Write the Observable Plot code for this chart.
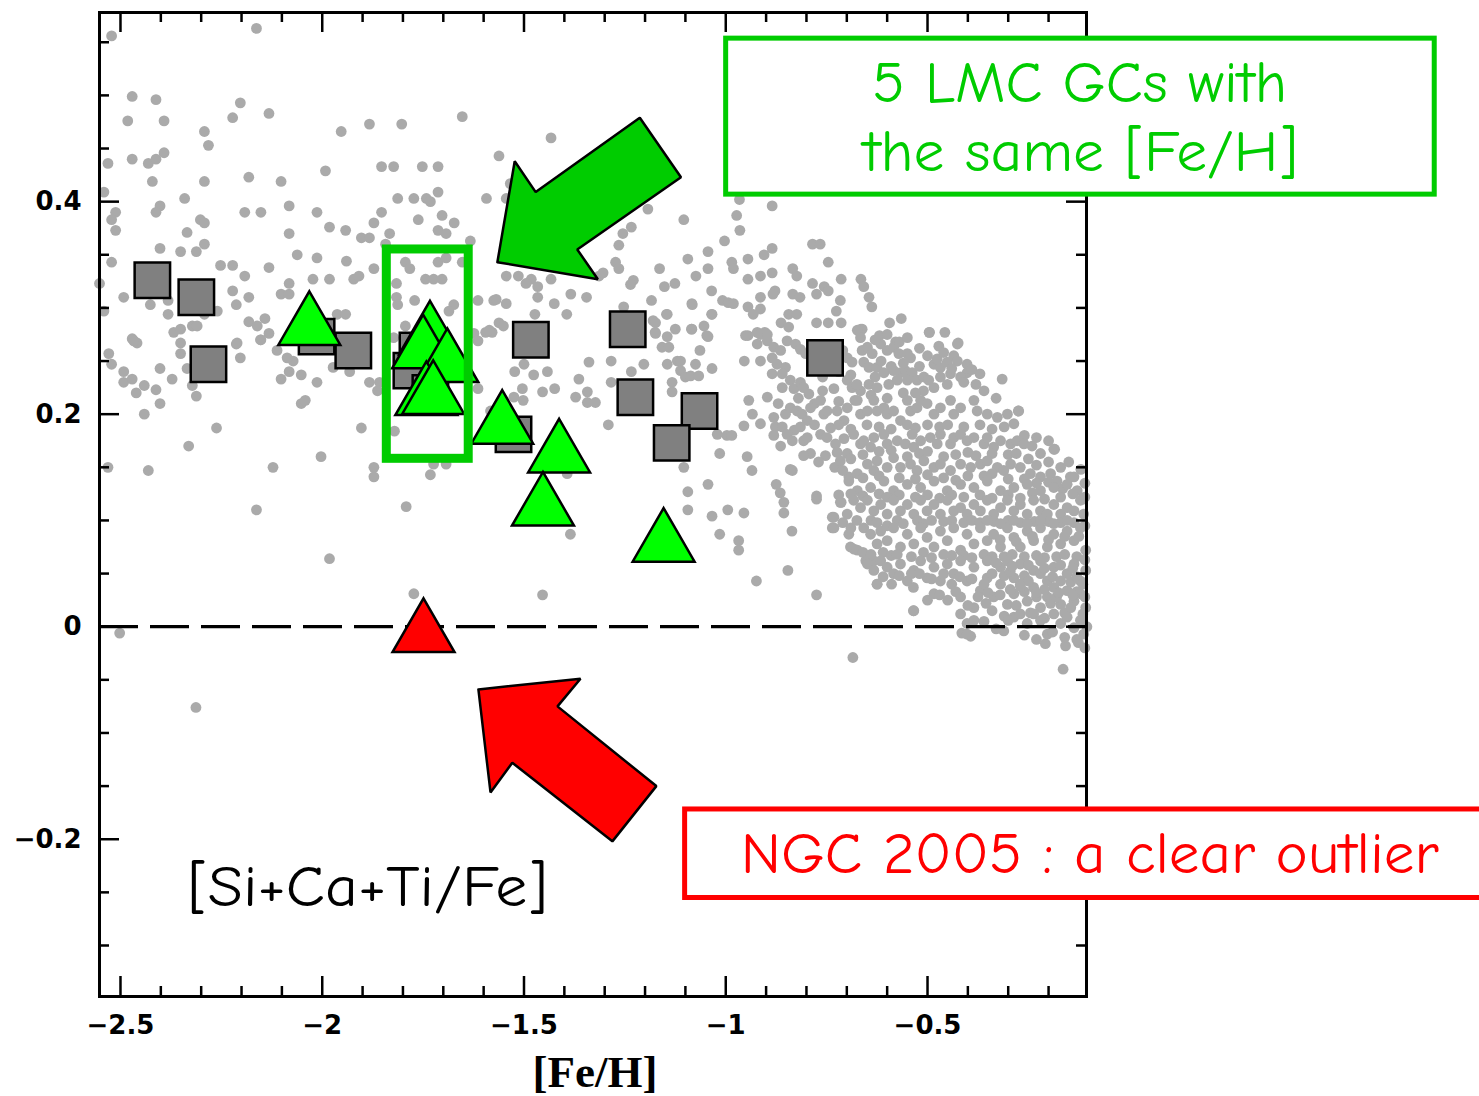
<!DOCTYPE html>
<html><head><meta charset="utf-8">
<script src="https://cdn.jsdelivr.net/npm/d3@7"></script>
<script src="https://cdn.jsdelivr.net/npm/@observablehq/plot@0.6"></script>
<style>html,body{margin:0;padding:0;background:#fff;overflow:hidden;}</style>
</head><body><div id="chart"></div>
<script>
// ---- Field stars [ [Fe/H], [Si+Ca+Ti/Fe] ] ----
const fieldMetalPoor = [
[-2.522,0.556],[-2.163,0.563],[-2.471,0.499],[-2.412,0.496],[-2.482,0.476],[-2.392,0.476],[-2.203,0.493],[-2.222,0.479],[-2.132,0.483],[-2.292,0.466],[-2.282,0.453],[-1.953,0.466],[-1.883,0.473],[-1.803,0.473],[-1.653,0.480],
[-2.531,0.436],[-2.471,0.440],[-2.431,0.436],[-2.412,0.440],[-2.392,0.446],[-2.421,0.419],[-2.292,0.419],[-2.182,0.423],[-2.102,0.419],[-1.992,0.429],[-1.853,0.433],[-1.823,0.433],[-1.752,0.433],[-1.713,0.433],[-1.562,0.443],
[-2.541,0.409],[-2.341,0.403],[-2.402,0.396],[-2.412,0.390],[-2.512,0.390],[-2.522,0.383],[-2.512,0.373],[-2.302,0.383],[-2.292,0.380],[-2.335,0.371],[-2.192,0.390],[-2.152,0.390],[-2.082,0.396],[-2.013,0.390],[-2.082,0.370],[-1.982,0.376],[-1.942,0.373],[-1.903,0.366],[-1.883,0.366],[-1.872,0.380],[-1.853,0.390],[-1.813,0.403],[-1.773,0.403],[-1.742,0.403],[-1.732,0.400],[-1.713,0.409],[-1.762,0.383],[-1.703,0.387],[-1.673,0.380],[-1.713,0.373],[-1.693,0.370],[-1.833,0.370],[-1.843,0.360],[-1.633,0.363],[-1.593,0.403],
[-2.402,0.356],[-2.351,0.353],[-2.312,0.353],[-2.292,0.360],[-2.522,0.343],[-2.252,0.340],[-2.222,0.340],[-2.192,0.330],[-2.132,0.338],[-2.062,0.350],[-2.013,0.347],[-1.940,0.344],[-1.872,0.337],[-2.023,0.327],[-1.982,0.327],[-2.082,0.323],[-1.922,0.327],[-1.909,0.330],[-2.552,0.323],[-2.222,0.316],[-2.102,0.313],[-2.082,0.313],[-2.492,0.310],[-2.182,0.310],[-2.382,0.307],[-2.213,0.303],[-2.541,0.297],[-2.426,0.303],[-2.382,0.294],[-2.292,0.294],[-2.260,0.297],[-2.182,0.287],[-2.161,0.283],[-2.142,0.290],[-2.132,0.276],[-2.152,0.270],[-2.211,0.267],[-2.368,0.277],[-2.351,0.280],[-2.322,0.283],[-2.310,0.283],[-2.471,0.271],[-2.459,0.267],[-2.351,0.267],[-1.963,0.294],[-1.942,0.294],[-1.816,0.323],[-1.816,0.310],[-1.813,0.303],[-1.771,0.307],[-1.794,0.343],[-1.783,0.337],[-1.744,0.327],[-1.724,0.327],[-1.703,0.327],[-1.713,0.343],[-1.693,0.347],[-1.653,0.343],[-1.674,0.303],[-1.686,0.297],[-1.614,0.307],[-1.575,0.307],[-1.794,0.283],[-1.624,0.276],[-1.614,0.269],[-1.595,0.277],[-1.579,0.277],[-1.562,0.286],[-1.823,0.272],
[-2.467,0.269],[-2.529,0.257],[-2.522,0.247],[-2.492,0.240],[-2.492,0.230],[-2.471,0.233],[-2.461,0.220],[-2.441,0.227],[-2.412,0.223],[-2.402,0.243],[-2.402,0.210],[-2.441,0.200],[-2.372,0.233],[-2.351,0.257],[-2.335,0.243],[-2.322,0.227],[-2.312,0.217],[-2.262,0.187],[-2.331,0.170],[-2.531,0.150],[-2.431,0.147],[-2.213,0.266],[-2.203,0.253],[-2.153,0.270],[-2.112,0.260],[-2.072,0.250],[-2.082,0.240],[-2.102,0.233],[-2.052,0.237],[-2.013,0.230],[-2.052,0.210],[-2.042,0.213],[-1.973,0.244],[-1.932,0.240],[-1.883,0.230],[-1.858,0.230],[-1.903,0.187],[-2.003,0.160],[-2.122,0.150],[-1.872,0.150],[-1.872,0.141],[-2.163,0.110],[-1.792,0.113],[-1.982,0.064],[-1.821,0.184],[-1.732,0.143],[-1.724,0.153],[-1.693,0.153],[-1.773,0.031],[-2.502,-0.006],[-1.614,0.224],[-1.583,0.203],[-2.313,-0.076],[-1.863,0.222],[-1.608,0.178],[-2.087,0.253]
];
const fieldIntermediate = [
[-1.433,0.460],[-1.544,0.403],[-1.534,0.417],[-1.193,0.393],[-1.104,0.383],[-0.973,0.387],[-0.965,0.373],[-0.885,0.396],[-0.966,0.402],[-1.234,0.376],[-1.255,0.370],[-1.265,0.359],[-1.003,0.363],[-1.044,0.353],[-1.094,0.346],[-0.885,0.356],[-0.905,0.350],[-0.945,0.346],[-0.985,0.343],[-0.785,0.360],[-0.766,0.360],[-0.746,0.343],[-1.273,0.343],[-1.265,0.337],[-1.164,0.337],[-1.044,0.337],[-1.074,0.330],[-0.981,0.337],[-0.945,0.327],[-0.914,0.330],[-0.885,0.333],[-0.834,0.337],[-0.824,0.330],[-0.714,0.327],[-0.665,0.327],[-0.658,0.320],[-0.785,0.323],[-0.756,0.320],[-0.746,0.316],[-0.775,0.313],[-0.834,0.313],[-0.816,0.310],[-0.878,0.316],[-0.883,0.313],[-0.914,0.310],[-0.945,0.301],[-0.914,0.299],[-0.932,0.294],[-1.008,0.307],[-0.994,0.305],[-0.981,0.304],[-1.035,0.316],[-1.084,0.304],[-1.152,0.320],[-1.126,0.323],[-1.184,0.307],[-1.229,0.326],[-1.236,0.322],[-1.035,0.294],[-1.147,0.294],[-1.180,0.288],[-1.175,0.277],[-1.125,0.280],[-1.084,0.280],[-1.054,0.283],[-1.047,0.274],[-0.945,0.274],[-0.922,0.277],[-0.903,0.277],[-0.863,0.286],[-0.844,0.294],[-0.824,0.294],[-0.775,0.286],[-0.746,0.286],[-0.714,0.286],[-0.726,0.297],[-0.665,0.280],[-0.638,0.301],[-0.645,0.310],[-0.594,0.286],[-0.565,0.290],[-0.619,0.274],[-0.579,0.268],[-0.496,0.277],[-0.457,0.277],[-0.424,0.267],[-1.314,0.330],[-1.482,0.327],[-1.466,0.320],[-1.495,0.323],[-1.433,0.327],[-1.384,0.313],[-1.345,0.310],[-1.514,0.330],[-1.544,0.330],[-1.466,0.310],[-1.425,0.304],[-1.569,0.308],[-1.544,0.304],[-1.473,0.294],[-1.394,0.294],[-1.304,0.333],[-1.586,0.279],[-1.551,0.283],
[-1.500,0.247],[-1.523,0.240],[-1.476,0.237],[-1.442,0.240],[-1.504,0.224],[-1.454,0.221],[-1.424,0.224],[-1.525,0.216],[-1.502,0.213],[-1.364,0.233],[-1.372,0.216],[-1.343,0.221],[-1.339,0.249],[-1.343,0.211],[-1.323,0.211],[-1.284,0.250],[-1.284,0.230],[-1.234,0.240],[-1.203,0.247],[-1.291,0.190],[-1.253,0.301],[-1.174,0.286],[-1.174,0.276],[-1.145,0.294],[-1.145,0.273],[-1.158,0.263],[-1.141,0.263],[-1.083,0.303],[-1.085,0.280],[-1.034,0.294],[-1.044,0.273],[-1.064,0.260],[-1.145,0.247],[-1.120,0.250],[-1.112,0.250],[-1.075,0.247],[-1.112,0.241],[-1.100,0.235],[-1.087,0.236],[-1.067,0.236],[-1.034,0.243],[-1.133,0.230],[-1.133,0.221],[-1.021,0.181],[-0.997,0.180],[-0.985,0.180],[-1.015,0.163],[-1.104,0.150],[-1.044,0.134],[-1.094,0.127],[-1.094,0.110],[-1.034,0.104],[-0.995,0.110],[-1.015,0.087],[-0.968,0.081],[-0.968,0.072],[-1.385,0.087],[-1.393,0.144],
[-1.454,0.030],[-0.924,0.043],[-0.846,0.053],[-0.775,0.030],[-0.836,0.090],[-0.856,0.107],[-0.856,0.117],[-0.865,0.126],[-0.875,0.134],[-0.835,0.147],[-0.775,0.123],[-0.775,0.120],[-0.714,0.117],[-0.736,0.103],[-0.736,0.093],[-0.695,0.087],[-0.682,0.073],[-0.653,0.062],[-0.625,0.040],[-0.589,0.040],[-0.535,0.037],[-0.535,0.015],[-0.415,-0.006],[-0.393,-0.009],
[-0.685,-0.029],[-0.164,-0.040],[-0.208,-0.016],[-0.158,-0.018],[-0.126,-0.015]
];
const fieldMetalRich = [
[-0.844,0.282],[-0.662,0.280],[-0.951,0.274],[-0.914,0.275],[-0.897,0.275],[-0.922,0.266],[-0.897,0.269],[-0.881,0.263],[-0.864,0.260],[-0.848,0.269],[-0.827,0.266],[-0.815,0.261],[-0.802,0.257],[-0.954,0.250],[-0.914,0.250],[-0.885,0.253],[-0.873,0.247],[-0.852,0.244],[-0.860,0.238],[-0.885,0.238],[-0.897,0.216],[-0.840,0.232],[-0.831,0.224],[-0.815,0.230],[-0.807,0.225],[-0.794,0.219],[-0.732,0.224],[-0.699,0.253],[-0.687,0.249],[-0.674,0.279],[-0.666,0.272],[-0.662,0.260],[-0.649,0.263],[-0.637,0.257],[-0.616,0.266],[-0.600,0.260],[-0.584,0.263],[-0.571,0.257],[-0.550,0.257],[-0.542,0.253],[-0.658,0.249],[-0.645,0.244],[-0.625,0.244],[-0.608,0.239],[-0.584,0.241],[-0.567,0.239],[-0.555,0.241],[-0.538,0.239],[-0.699,0.232],[-0.687,0.225],[-0.666,0.222],[-0.645,0.228],[-0.625,0.225],[-0.596,0.228],[-0.575,0.232],[-0.550,0.232],[-0.526,0.232],[-0.509,0.235],[-0.497,0.232],[-0.484,0.247],[-0.468,0.244],[-0.476,0.252],[-0.451,0.249],[-0.435,0.255],[-0.426,0.250],[-0.402,0.247],[-0.402,0.239],[-0.418,0.235],[-0.443,0.238],[-0.468,0.235],[-0.451,0.228],[-0.484,0.225],[-0.495,0.277],[-0.472,0.264],[-0.426,0.266],[-0.315,0.233],[-0.275,0.203],[-0.185,0.167],[-0.716,0.307],
[-0.78,0.245],[-0.76,0.235],[-0.74,0.250],[-0.72,0.240],[-0.71,0.260],[-0.69,0.237],[-0.675,0.228],[-0.63,0.235],[-0.615,0.250],[-0.59,0.245],[-0.56,0.248],[-0.52,0.245],[-0.51,0.222],[-0.53,0.220],[-0.56,0.220],[-0.60,0.215],[-0.64,0.218],[-0.68,0.213],[-0.72,0.212],[-0.76,0.222],[-0.78,0.210],[-0.82,0.215],[-0.86,0.225],[-0.87,0.210],
[-0.63,0.270],[-0.60,0.275],[-0.57,0.268],[-0.55,0.272],[-0.52,0.262],[-0.50,0.255],[-0.46,0.258],[-0.44,0.243],[-0.41,0.230],[-0.38,0.228],[-0.36,0.222],[-0.33,0.215],[-0.39,0.242],[-0.37,0.238],
[-0.943,0.213],[-0.934,0.200],[-0.914,0.191],[-0.881,0.197],[-0.877,0.188],[-0.852,0.200],[-0.840,0.206],[-0.823,0.203],[-0.811,0.200],[-0.798,0.194],[-0.815,0.188],[-0.790,0.206],[-0.765,0.213],[-0.757,0.200],[-0.749,0.203],[-0.724,0.203],[-0.707,0.194],[-0.699,0.206],[-0.674,0.213],[-0.666,0.200],[-0.649,0.203],[-0.633,0.213],[-0.625,0.203],[-0.608,0.206],[-0.600,0.200],[-0.584,0.203],[-0.567,0.194],[-0.550,0.213],[-0.542,0.203],[-0.526,0.206],[-0.517,0.213],[-0.501,0.210],[-0.484,0.200],[-0.468,0.206],[-0.443,0.213],[-0.435,0.200],[-0.418,0.206],[-0.385,0.213],[-0.377,0.203],[-0.352,0.200],[-0.327,0.197],[-0.302,0.200],[-0.286,0.191],[-0.274,0.203],
[-0.86,0.188],[-0.83,0.185],[-0.78,0.190],[-0.74,0.187],[-0.72,0.190],[-0.69,0.186],[-0.65,0.190],[-0.62,0.188],[-0.59,0.186],[-0.55,0.190],[-0.53,0.187],[-0.50,0.190],[-0.47,0.188],[-0.45,0.190],[-0.41,0.188],[-0.37,0.190],[-0.34,0.186],[-0.31,0.188],[-0.26,0.180],[-0.23,0.178],[-0.20,0.175],
[-0.881,0.180],[-0.864,0.170],[-0.848,0.181],[-0.835,0.175],[-0.807,0.175],[-0.798,0.178],[-0.765,0.181],[-0.749,0.178],[-0.753,0.161],[-0.728,0.172],[-0.707,0.177],[-0.699,0.163],[-0.683,0.181],[-0.666,0.172],[-0.658,0.175],[-0.641,0.169],[-0.633,0.178],[-0.608,0.181],[-0.600,0.172],[-0.575,0.175],[-0.555,0.172],[-0.538,0.181],[-0.534,0.169],[-0.517,0.175],[-0.493,0.178],[-0.476,0.172],[-0.468,0.181],[-0.443,0.172],[-0.435,0.178],[-0.418,0.181],[-0.402,0.175],[-0.385,0.178],[-0.360,0.172],[-0.352,0.178],[-0.336,0.169],[-0.319,0.175],[-0.294,0.172],[-0.278,0.175],[-0.261,0.172],[-0.241,0.170],[-0.220,0.163],[-0.187,0.167],
[-0.79,0.163],[-0.77,0.155],[-0.73,0.150],[-0.69,0.158],[-0.66,0.162],[-0.62,0.165],[-0.59,0.166],[-0.55,0.160],[-0.52,0.163],[-0.50,0.165],[-0.46,0.160],[-0.43,0.162],[-0.40,0.164],[-0.38,0.161],[-0.34,0.163],[-0.30,0.162],[-0.28,0.163],[-0.25,0.158],[-0.23,0.152],[-0.20,0.155],[-0.17,0.150],[-0.15,0.155],[-0.12,0.148],[-0.11,0.135],
[-0.840,0.148],[-0.807,0.161],[-0.724,0.164],[-0.716,0.156],[-0.695,0.141],[-0.674,0.144],[-0.649,0.153],[-0.633,0.147],[-0.625,0.156],[-0.600,0.150],[-0.584,0.159],[-0.567,0.150],[-0.542,0.153],[-0.526,0.147],[-0.509,0.156],[-0.484,0.150],[-0.468,0.153],[-0.443,0.147],[-0.418,0.153],[-0.393,0.150],[-0.369,0.153],[-0.352,0.156],[-0.327,0.150],[-0.311,0.147],[-0.294,0.153],[-0.270,0.150],[-0.245,0.144],[-0.220,0.141],[-0.195,0.144],[-0.179,0.137],[-0.146,0.141],[-0.137,0.141],
[-0.71,0.147],[-0.66,0.140],[-0.62,0.142],[-0.57,0.140],[-0.53,0.139],[-0.50,0.143],[-0.46,0.140],[-0.43,0.138],[-0.40,0.142],[-0.36,0.142],[-0.34,0.144],[-0.30,0.139],[-0.26,0.139],[-0.23,0.135],[-0.20,0.136],[-0.165,0.130],[-0.11,0.122],
[-0.695,0.137],[-0.674,0.128],[-0.641,0.131],[-0.608,0.137],[-0.584,0.128],[-0.550,0.134],[-0.517,0.131],[-0.484,0.137],[-0.451,0.128],[-0.418,0.134],[-0.385,0.131],[-0.352,0.137],[-0.319,0.128],[-0.286,0.131],[-0.253,0.134],[-0.220,0.128],[-0.187,0.131],[-0.154,0.134],[-0.129,0.128],
[-0.72,0.124],[-0.69,0.125],[-0.66,0.123],[-0.62,0.125],[-0.60,0.122],[-0.57,0.124],[-0.53,0.122],[-0.50,0.124],[-0.47,0.121],[-0.44,0.124],[-0.41,0.122],[-0.37,0.124],[-0.34,0.121],[-0.30,0.124],[-0.27,0.121],[-0.24,0.126],[-0.21,0.120],[-0.17,0.122],[-0.14,0.125],[-0.115,0.120],
[-0.732,0.103],[-0.732,0.093],[-0.716,0.117],[-0.699,0.106],[-0.683,0.119],[-0.666,0.112],[-0.649,0.119],[-0.633,0.109],[-0.616,0.115],[-0.600,0.106],[-0.584,0.119],[-0.567,0.109],[-0.550,0.115],[-0.534,0.106],[-0.517,0.119],[-0.501,0.109],[-0.484,0.115],[-0.468,0.106],[-0.451,0.119],[-0.435,0.109],[-0.418,0.112],[-0.402,0.106],[-0.385,0.115],[-0.369,0.109],[-0.352,0.119],[-0.336,0.106],[-0.319,0.112],[-0.302,0.119],[-0.286,0.109],[-0.270,0.115],[-0.253,0.106],[-0.237,0.119],[-0.220,0.109],[-0.203,0.106],[-0.187,0.115],[-0.170,0.106],[-0.154,0.112],[-0.137,0.109],[-0.121,0.119],[-0.113,0.106],
[-0.71,0.098],[-0.69,0.093],[-0.675,0.100],[-0.64,0.100],[-0.625,0.098],[-0.60,0.095],[-0.575,0.100],[-0.56,0.097],[-0.525,0.100],[-0.51,0.097],[-0.49,0.100],[-0.46,0.099],[-0.44,0.100],[-0.41,0.098],[-0.39,0.100],[-0.37,0.098],[-0.335,0.099],[-0.30,0.100],[-0.27,0.098],[-0.235,0.099],[-0.20,0.099],[-0.17,0.098],[-0.137,0.098],[-0.11,0.095],
[-0.691,0.075],[-0.674,0.072],[-0.658,0.093],[-0.641,0.087],[-0.625,0.078],[-0.633,0.062],[-0.616,0.090],[-0.600,0.081],[-0.584,0.093],[-0.567,0.075],[-0.550,0.087],[-0.534,0.078],[-0.517,0.093],[-0.501,0.084],[-0.484,0.075],[-0.468,0.090],[-0.451,0.081],[-0.435,0.093],[-0.418,0.072],[-0.402,0.087],[-0.385,0.078],[-0.369,0.093],[-0.352,0.081],[-0.336,0.087],[-0.319,0.075],[-0.302,0.093],[-0.286,0.084],[-0.270,0.075],[-0.253,0.090],[-0.237,0.081],[-0.220,0.093],[-0.203,0.075],[-0.187,0.087],[-0.170,0.078],[-0.154,0.090],[-0.137,0.081],[-0.121,0.093],[-0.108,0.072],[-0.352,0.100],[-0.319,0.097],[-0.286,0.100],[-0.253,0.097],[-0.220,0.100],[-0.187,0.097],[-0.154,0.100],
[-0.66,0.070],[-0.64,0.068],[-0.61,0.070],[-0.59,0.067],[-0.575,0.068],[-0.54,0.066],[-0.51,0.070],[-0.49,0.065],[-0.46,0.068],[-0.44,0.067],[-0.41,0.067],[-0.39,0.065],[-0.36,0.068],[-0.34,0.066],[-0.31,0.066],[-0.29,0.068],[-0.26,0.066],[-0.23,0.067],[-0.21,0.065],[-0.18,0.066],[-0.16,0.068],[-0.13,0.066],[-0.11,0.063],
[-0.649,0.059],[-0.633,0.053],[-0.616,0.062],[-0.600,0.056],[-0.625,0.040],[-0.584,0.050],[-0.567,0.059],[-0.550,0.043],[-0.534,0.053],[-0.517,0.062],[-0.501,0.046],[-0.484,0.056],[-0.484,0.031],[-0.468,0.043],[-0.451,0.059],[-0.435,0.050],[-0.418,0.062],[-0.418,0.028],[-0.402,0.043],[-0.385,0.056],[-0.385,0.018],[-0.369,0.034],[-0.352,0.062],[-0.352,0.046],[-0.336,0.028],[-0.319,0.056],[-0.319,0.040],[-0.302,0.062],[-0.302,0.021],[-0.286,0.046],[-0.286,0.031],[-0.270,0.059],[-0.270,0.040],[-0.253,0.024],[-0.237,0.053],[-0.237,0.037],[-0.220,0.062],[-0.220,0.018],[-0.203,0.043],[-0.203,0.028],[-0.187,0.056],[-0.187,0.037],[-0.170,0.021],[-0.154,0.050],[-0.154,0.034],[-0.137,0.059],[-0.137,0.024],[-0.121,0.043],[-0.121,0.031],[-0.108,0.053],[-0.108,0.018],
[-0.61,0.047],[-0.57,0.048],[-0.54,0.050],[-0.52,0.050],[-0.49,0.045],[-0.46,0.050],[-0.44,0.040],[-0.42,0.047],[-0.39,0.045],[-0.36,0.040],[-0.34,0.050],[-0.31,0.048],[-0.295,0.052],[-0.26,0.048],[-0.25,0.043],[-0.22,0.050],[-0.21,0.035],[-0.19,0.047],[-0.17,0.043],[-0.145,0.042],[-0.13,0.047],[-0.115,0.040],
[-0.50,0.025],[-0.47,0.030],[-0.45,0.025],[-0.43,0.033],[-0.40,0.020],[-0.375,0.028],[-0.355,0.022],[-0.34,0.015],[-0.32,0.030],[-0.31,0.010],[-0.295,0.035],[-0.28,0.020],[-0.26,0.033],[-0.245,0.013],[-0.23,0.028],[-0.21,0.008],[-0.195,0.022],[-0.18,0.028],[-0.16,0.013],[-0.145,0.018],[-0.13,0.033],[-0.115,0.012],[-0.11,0.028],
[-0.33,0.060],[-0.29,0.057],[-0.25,0.058],[-0.21,0.055],[-0.17,0.058],[-0.14,0.055],[-0.32,0.082],[-0.28,0.080],[-0.24,0.085],[-0.20,0.082],[-0.16,0.085],[-0.125,0.085],[-0.35,0.032],[-0.27,0.038],[-0.23,0.032],[-0.175,0.032],[-0.14,0.030],
[-0.534,0.015],[-0.418,0.012],[-0.402,0.003],[-0.385,0.006],[-0.402,-0.007],[-0.311,-0.004],[-0.286,0.009],[-0.270,0.012],[-0.253,0.003],[-0.237,0.012],[-0.220,0.006],[-0.203,-0.007],[-0.187,0.012],[-0.170,0.003],[-0.154,0.009],[-0.137,-0.001],[-0.121,0.006],[-0.113,-0.007],
[-0.36,0.005],[-0.33,-0.002],[-0.30,0.006],[-0.26,-0.008],[-0.23,-0.012],[-0.19,-0.005],[-0.16,-0.010],[-0.13,-0.012],[-0.11,-0.020],[-0.105,0.000],
[-0.955,0.189],[-0.947,0.160],[-0.935,0.147],[-0.955,0.107]
];

// ---- Globular clusters ----
const galacticGCs = [
[-2.421,0.326],[-2.312,0.310],[-2.282,0.247],[-2.014,0.273],[-1.923,0.260],[-1.764,0.260],[-1.779,0.241],[-1.732,0.220],
[-1.526,0.181],[-1.483,0.270],[-1.243,0.280],[-1.224,0.216],[-1.065,0.203],[-1.134,0.173],[-0.754,0.253]
];
const lmcGCs = [
[-2.032,0.282],[-1.733,0.273],[-1.750,0.260],[-1.690,0.247],[-1.742,0.216],[-1.725,0.217],
[-1.554,0.189],[-1.413,0.162],[-1.453,0.112],[-1.154,0.078]
];
const ngc2005 = [[-1.749,-0.007]];

// ---- Annotation shapes (data units) ----
const sameFeBox = [{x1:-1.840, x2:-1.637, y1:0.158, y2:0.355}];
const greenArrow = [[-1.566,0.343],[-1.523,0.438],[-1.471,0.409],[-1.213,0.479],[-1.111,0.423],[-1.368,0.355],[-1.317,0.327],[-1.566,0.343]];
const redArrow = [[-1.613,-0.059],[-1.360,-0.049],[-1.417,-0.075],[-1.172,-0.150],[-1.281,-0.202],[-1.529,-0.128],[-1.583,-0.156],[-1.613,-0.059]];
const greenNoteBox = [{x1:-0.999, x2:0.757, y1:0.4066, y2:0.5534}];
const redNoteBox = [{x1:-1.1007, x2:0.95, y1:-0.2553, y2:-0.1720}];
const greenNote = [{x:-0.123, y:0.4935, text:"5 LMC GCs with"},{x:-0.121, y:0.4292, text:"the same [Fe/H]"}];
const redNote = [{x:-0.098, y:-0.2315, text:"NGC 2005 : a clear outlier"}];
const ratioLabel = [{x:-1.888, y:-0.2626, text:"[Si+Ca+Ti/Fe]"}];

// ---- Ticks ----
const xMajor = [-2.5,-2,-1.5,-1,-0.5];
const xMinor = [-2.4,-2.3,-2.2,-2.1,-1.9,-1.8,-1.7,-1.6,-1.4,-1.3,-1.2,-1.1,-0.9,-0.8,-0.7,-0.6,-0.4,-0.3,-0.2];
const yMajor = [-0.2,0,0.2,0.4];
const yMinor = [-0.3,-0.25,-0.15,-0.1,-0.05,0.05,0.1,0.15,0.25,0.3,0.35,0.45,0.5,0.55];

const W = 1479, H = 1096, mL = 99, mR = 393, mT = 12, mB = 100;
const innerW = W - mL - mR, innerH = H - mT - mB;
const majL = 20, minL = 10;
const fmt = d => d === 0 ? "0" : (d < 0 ? "\u2212" : "") + String(Math.abs(d));
const comic = "'Comic Sans MS','Comic Neue','Noto Sans',sans-serif";
const tickFont = "'DejaVu Sans',sans-serif";
const field = fieldMetalPoor.concat(fieldIntermediate, fieldMetalRich);
const textWidths = {"5 LMC GCs with": 415, "the same [Fe/H]": 435, "NGC 2005 : a clear outlier": 698, "[Si+Ca+Ti/Fe]": 360};

const plot = Plot.plot({
  width: W, height: H,
  marginLeft: mL, marginRight: mR, marginTop: mT, marginBottom: mB,
  style: {background: "white"},
  x: {domain: [-2.552, -0.106]},
  y: {domain: [-0.348, 0.578]},
  marks: [
    Plot.dot(field, {x: d => d[0], y: d => d[1], r: 5.4, fill: "#aaaaaa"}),
    Plot.ruleY([0], {stroke: "black", strokeWidth: 3.2, strokeDasharray: "39,12"}),
    Plot.dot(galacticGCs, {x: d => d[0], y: d => d[1], symbol: "square", r: 20, fill: "#808080", stroke: "black", strokeWidth: 2.5}),
    Plot.dot(lmcGCs, {x: d => d[0], y: d => d[1], symbol: "triangle", r: 23, fill: "#00ff00", stroke: "black", strokeWidth: 2.5}),
    Plot.dot(ngc2005, {x: d => d[0], y: d => d[1], symbol: "triangle", r: 23, fill: "#ff0000", stroke: "black", strokeWidth: 2.5}),
    Plot.rect(sameFeBox, {x1: "x1", x2: "x2", y1: "y1", y2: "y2", fill: "none", stroke: "#00cc00", strokeWidth: 9}),
    Plot.line(greenArrow, {x: d => d[0], y: d => d[1], fill: "#00cc00", stroke: "black", strokeWidth: 2.5, strokeLinejoin: "miter"}),
    Plot.line(redArrow, {x: d => d[0], y: d => d[1], fill: "#ff0000", stroke: "black", strokeWidth: 2.5, strokeLinejoin: "miter"}),
    Plot.frame({stroke: "black", strokeWidth: 3}),
    Plot.ruleX(xMajor, {insetTop: innerH - majL, stroke: "black", strokeWidth: 2.5}),
    Plot.ruleX(xMajor, {insetBottom: innerH - majL, stroke: "black", strokeWidth: 2.5}),
    Plot.ruleX(xMinor, {insetTop: innerH - minL, stroke: "black", strokeWidth: 2.5}),
    Plot.ruleX(xMinor, {insetBottom: innerH - minL, stroke: "black", strokeWidth: 2.5}),
    Plot.ruleY(yMajor, {insetRight: innerW - majL, stroke: "black", strokeWidth: 2.5}),
    Plot.ruleY(yMajor, {insetLeft: innerW - majL, stroke: "black", strokeWidth: 2.5}),
    Plot.ruleY(yMinor, {insetRight: innerW - minL, stroke: "black", strokeWidth: 2.5}),
    Plot.ruleY(yMinor, {insetLeft: innerW - minL, stroke: "black", strokeWidth: 2.5}),
    Plot.axisX(xMajor, {anchor: "bottom", tickSize: 0, tickPadding: 19, tickFormat: fmt, label: null, fontSize: 26, fontWeight: "bold", fontFamily: tickFont}),
    Plot.axisY(yMajor, {anchor: "left", tickSize: 0, tickPadding: 18, tickFormat: fmt, label: null, fontSize: 26, fontWeight: "bold", fontFamily: tickFont}),
    Plot.text(["[Fe/H]"], {frameAnchor: "bottom", dy: 90, dx: 2, lineAnchor: "bottom", fontSize: 45, fontWeight: "bold", fontFamily: "'Liberation Serif',serif", fill: "black"}),
    Plot.text(ratioLabel, {x: "x", y: "y", text: "text", lineAnchor: "bottom", fontSize: 58, fontFamily: comic, fill: "black"}),
    Plot.rect(greenNoteBox, {x1: "x1", x2: "x2", y1: "y1", y2: "y2", fill: "white", stroke: "#00cc00", strokeWidth: 5}),
    Plot.text(greenNote, {x: "x", y: "y", text: "text", lineAnchor: "bottom", fontSize: 58, fontFamily: comic, fill: "#00cc00"}),
    Plot.rect(redNoteBox, {x1: "x1", x2: "x2", y1: "y1", y2: "y2", fill: "white", stroke: "#ff0000", strokeWidth: 5}),
    Plot.text(redNote, {x: "x", y: "y", text: "text", lineAnchor: "bottom", fontSize: 58, fontFamily: comic, fill: "#ff0000"})
  ]
});
d3.select(plot).selectAll("text").each(function() {
  const w = textWidths[this.textContent];
  if (w) { this.setAttribute("textLength", w); this.setAttribute("lengthAdjust", "spacingAndGlyphs"); }
});
document.getElementById("chart").appendChild(plot);
</script>
</body></html>
